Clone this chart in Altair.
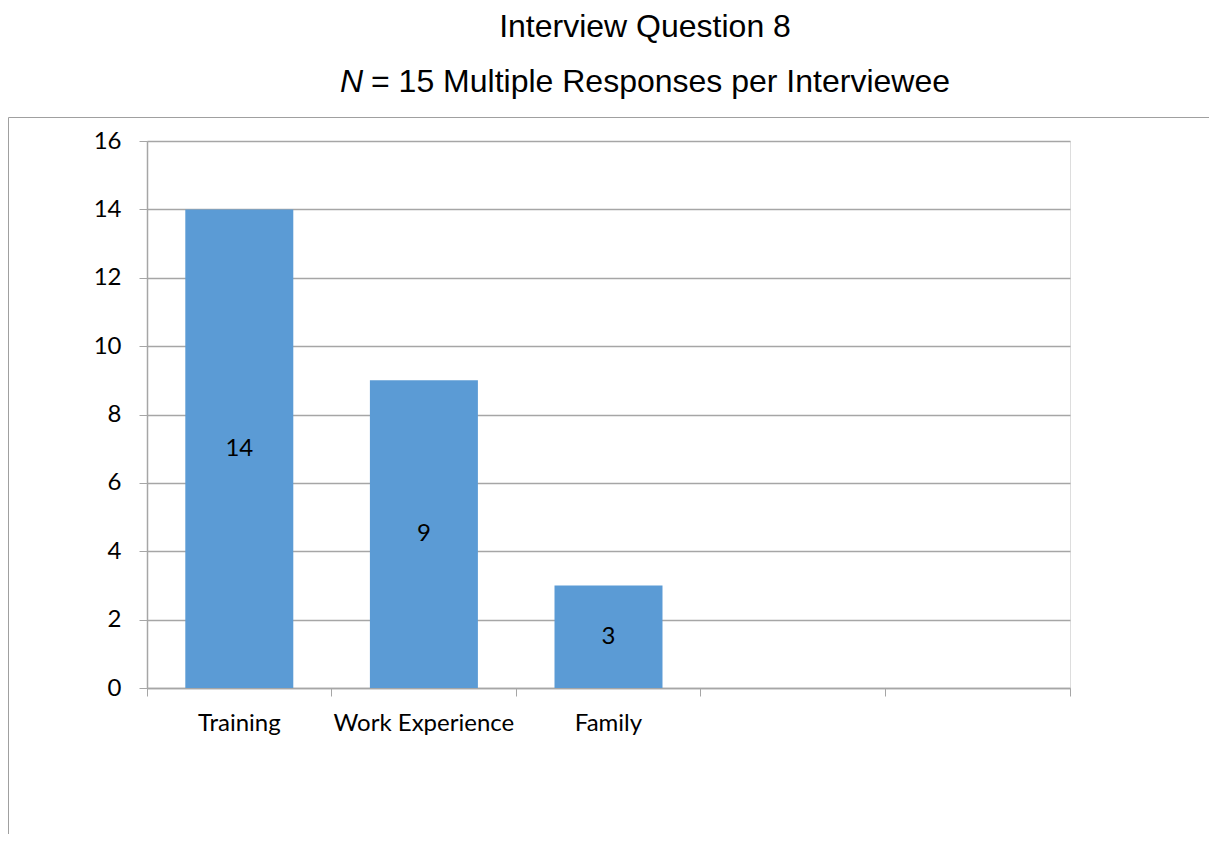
import altair as alt
import pandas as pd

# ---- data ----
categories = ["Training", "Work Experience", "Family"]
values = [14, 9, 3]
empty_slots = [" ", "  "]          # two unlabeled category slots on the axis
y_ticks = [0, 2, 4, 6, 8, 10, 12, 14, 16]

title_text = "Interview Question 8"
subtitle_italic = "N"
subtitle_rest = "= 15 Multiple Responses per Interviewee"

W, H = 923, 547
BAR = "#5B9BD5"
GRID = "#A6A6A6"
LABEL_FONT = "Lato"
TITLE_FONT = "Liberation Sans"
LS = 24

df = pd.DataFrame({"category": categories, "value": values})
x_domain = categories + empty_slots

x = alt.X(
    "category:N",
    sort=x_domain,
    scale=alt.Scale(domain=x_domain, paddingInner=0, paddingOuter=0),
    axis=alt.Axis(
        title=None,
        labelAngle=0,
        bandPosition=1,
        tickExtra=True,
        ticks=True,
        tickSize=8,
        tickColor=GRID,
        domainColor=GRID,
        domainWidth=1.5,
        labelFont=LABEL_FONT,
        labelFontSize=LS,
        labelColor="#000000",
        labelPadding=15,
        labelLimit=400,
        grid=False,
    ),
)
y = alt.Y(
    "value:Q",
    scale=alt.Scale(domain=[0, 16], nice=False),
    axis=alt.Axis(
        title=None,
        values=y_ticks,
        tickSize=8,
        tickColor=GRID,
        domainColor=GRID,
        domainWidth=1.5,
        gridColor=GRID,
        gridWidth=1.5,
        labelFont=LABEL_FONT,
        labelFontSize=LS,
        labelColor="#000000",
        labelPadding=18,
    ),
)

bars = alt.Chart(df).mark_bar(
    color=BAR, width=alt.RelativeBandSize(0.585)
).encode(x=x, y=y)

bar_labels = alt.Chart(df).transform_calculate(
    mid="datum.value / 2"
).mark_text(
    font=LABEL_FONT, fontSize=LS, color="#000000", baseline="middle", align="center"
).encode(
    x=alt.X("category:N", sort=x_domain, scale=alt.Scale(domain=x_domain)),
    y=alt.Y("mid:Q"),
    text=alt.Text("value:Q"),
)

one = alt.Data(values=[{"k": 1}])

frame = alt.Chart(one).mark_rect(
    fillOpacity=0, stroke="#A0A0A0", strokeWidth=1
).encode(
    x=alt.value(-138.5), x2=alt.value(W + 400),
    y=alt.value(-23.5), y2=alt.value(H + 400),
)

title = alt.Chart(one).mark_text(
    font=TITLE_FONT, fontSize=32, color="#000000", align="center", baseline="alphabetic"
).encode(x=alt.value(498), y=alt.value(-104), text=alt.value(title_text))

sub_n = alt.Chart(one).mark_text(
    font=TITLE_FONT, fontSize=32, fontStyle="italic", color="#000000",
    align="right", baseline="alphabetic"
).encode(x=alt.value(216), y=alt.value(-49), text=alt.value(subtitle_italic))

sub_rest = alt.Chart(one).mark_text(
    font=TITLE_FONT, fontSize=32, color="#000000", align="left", baseline="alphabetic"
).encode(x=alt.value(224), y=alt.value(-49), text=alt.value(subtitle_rest))

chart = alt.layer(frame, bars, bar_labels, title, sub_n, sub_rest).properties(
    width=W, height=H,
    autosize=alt.AutoSizeParams(type="none"),
    padding={"left": 139, "top": 133, "right": 139, "bottom": 146},
).configure_view(stroke=None).configure(background="white")

chart.save("out.html", embed_options={"renderer": "svg", "actions": False})
